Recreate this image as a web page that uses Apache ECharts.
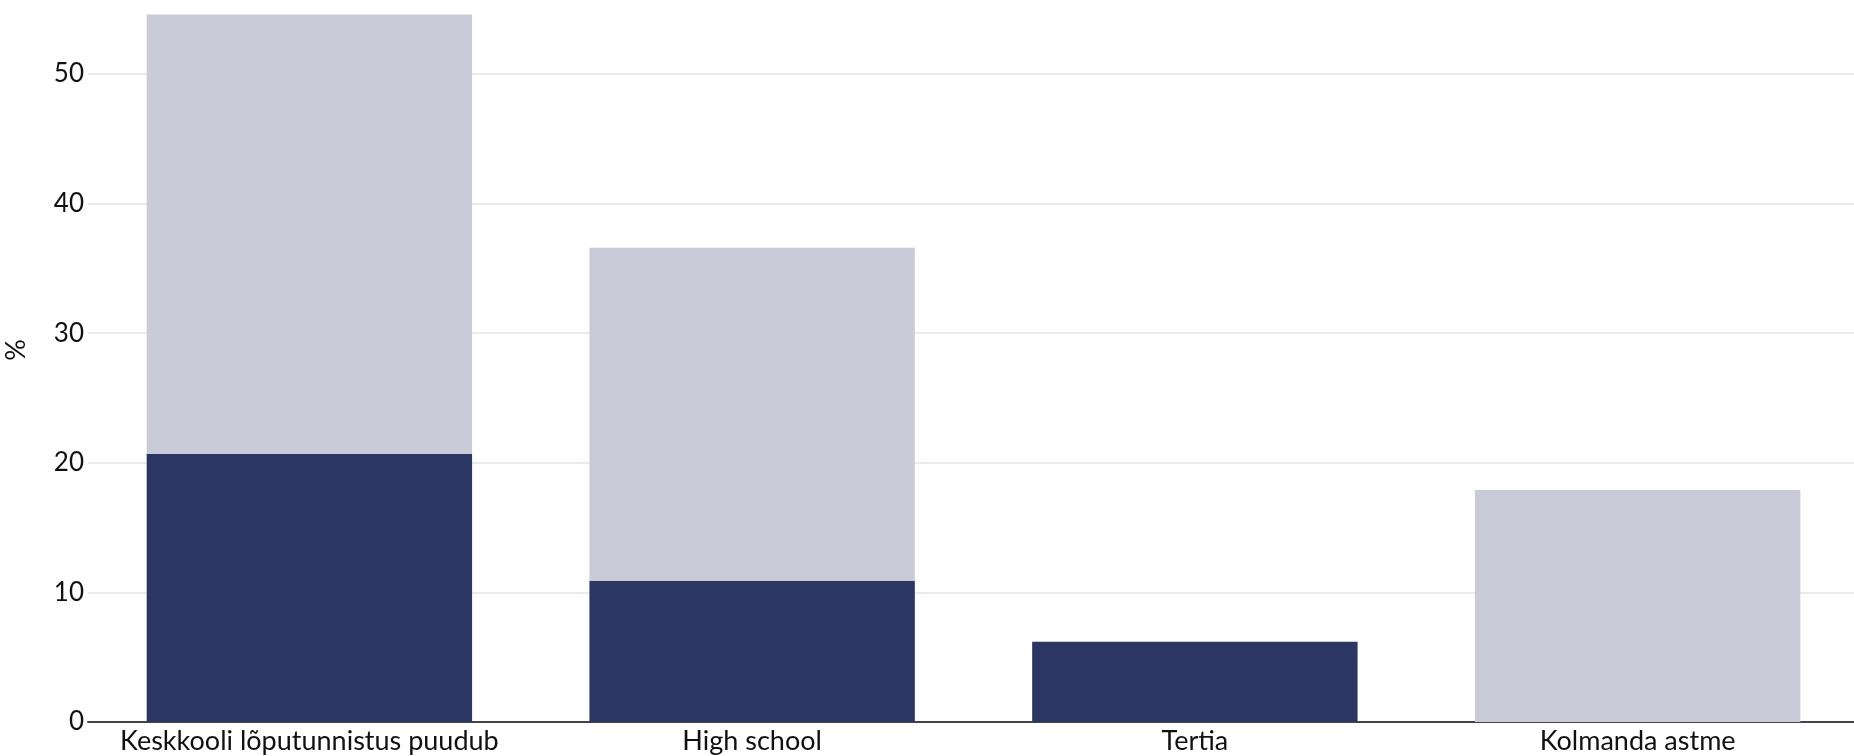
<!DOCTYPE html>
<html>
<head>
<meta charset="utf-8">
<script src="https://cdn.jsdelivr.net/npm/echarts@6/dist/echarts.min.js"></script>
<style>
html,body{margin:0;padding:0;background:#fff;}
#chart{width:1854px;height:756px;}
</style>
</head>
<body>
<div id="chart"></div>
<script>
var categories = ["Keskkooli lõputunnistus puudub", "High school", "Tertia", "Kolmanda astme"];
var darkValues = [20.7, 10.9, 6.2, 0];
var lightValues = [33.9, 25.7, 0, 17.9];
var yTicks = [0, 10, 20, 30, 40, 50];

var chart = echarts.init(document.getElementById('chart'));
var font = 'Lato, "Noto Sans", sans-serif';
chart.setOption({
  animation: false,
  backgroundColor: '#ffffff',
  grid: { left: 88, right: -5, top: 74, bottom: 34, containLabel: false, outerBoundsMode: 'none' },
  xAxis: {
    type: 'category',
    data: categories,
    axisLine: { show: true, lineStyle: { color: '#444444', width: 2 } },
    axisTick: { show: false },
    axisLabel: { color: '#111111', fontSize: 27, fontFamily: font, margin: 6, interval: 0, hideOverlap: false }
  },
  yAxis: {
    type: 'value',
    min: yTicks[0],
    max: yTicks[yTicks.length - 1],
    interval: 10,
    name: '%',
    nameLocation: 'middle',
    nameGap: 58,
    nameTextStyle: { color: '#111111', fontSize: 27, fontFamily: font, padding: [0, 0, 0, 96] },
    axisLine: { show: false },
    axisTick: { show: false },
    axisLabel: { color: '#111111', fontSize: 26, fontFamily: font, margin: 4 },
    splitLine: { show: true, lineStyle: { color: '#ebebeb', width: 2 } }
  },
  series: [
    {
      name: 'dark', type: 'bar', stack: 'total', data: darkValues,
      barCategoryGap: '26.5%', clip: false,
      itemStyle: { color: '#2b3762' }
    },
    {
      name: 'light', type: 'bar', stack: 'total', data: lightValues,
      barCategoryGap: '26.5%', clip: false,
      itemStyle: { color: '#c9ccd8' }
    }
  ]
});
</script>
</body>
</html>
